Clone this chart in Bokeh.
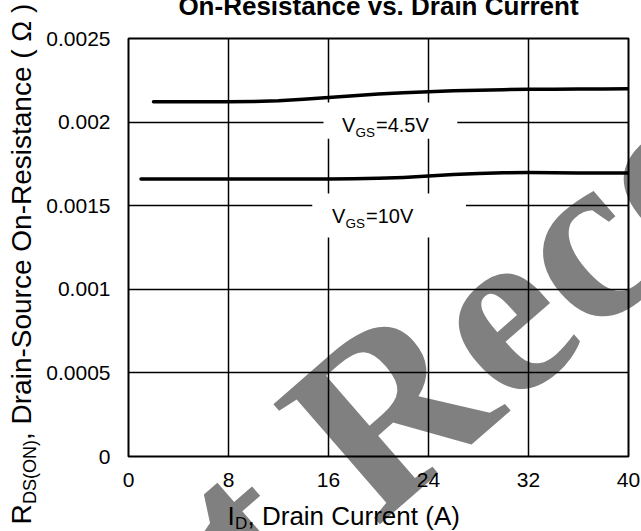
import math
from bokeh.plotting import figure
from bokeh.models import Label, BoxAnnotation, FixedTicker
from bokeh.embed import file_html
from bokeh.resources import INLINE

# ---- data ----
x_ticks = [0, 8, 16, 24, 32, 40]
x_tick_labels = ["0", "8", "16", "24", "32", "40"]
y_ticks = [0, 0.0005, 0.001, 0.0015, 0.002, 0.0025]
y_tick_labels = ["0", "0.0005", "0.001", "0.0015", "0.002", "0.0025"]

id_vgs45 = [2, 4, 6, 8, 10, 12, 14, 16, 18, 20, 22, 24, 26, 28, 30, 32, 34, 36, 38, 40]
r_vgs45 = [0.002122, 0.002122, 0.002122, 0.002122, 0.002123, 0.002127, 0.002136, 0.002147,
           0.002158, 0.002168, 0.002176, 0.002182, 0.002187, 0.002191, 0.002194, 0.002196,
           0.002197, 0.002198, 0.002198, 0.002199]

id_vgs10 = [1, 2, 4, 6, 8, 10, 12, 14, 16, 18, 20, 22, 24, 26, 28, 30, 32, 34, 36, 38, 40]
r_vgs10 = [0.001660, 0.001660, 0.001660, 0.001660, 0.001659, 0.001659, 0.001659, 0.001659,
           0.001660, 0.001661, 0.001664, 0.001669, 0.001677, 0.001686, 0.001693, 0.001697,
           0.001698, 0.001697, 0.001696, 0.001695, 0.001695]

title_text = "On-Resistance vs. Drain Current"
label_45 = ("V", "GS", "=4.5V")
label_10 = ("V", "GS", "=10V")
xlabel_parts = ("I", "D", ", Drain Current (A)")
ylabel_parts = ("R", "DS(ON)", ", Drain-Source On-Resistance ( \u03a9 )")
watermark_text = "Not Recommended"

FONT = "Liberation Sans"
TOP = -12                      # canvas top in page pixels (shifted up)
W, H = 641, 543
PL, PR, PT, PB = 128, 628, 38, 456   # frame edges in page pixels
BASE_K = 0.36                  # empirical baseline correction (fraction of font size)

# ---------------- background figure with the watermark ----------------
w = figure(width=W, height=H, x_range=(0, 1), y_range=(0, 1), title=None,
           x_axis_type=None, y_axis_type=None, output_backend="svg",
           toolbar_location=None, min_border=0)
w.styles = {"position": "absolute", "left": "0px", "top": f"{TOP}px"}
w.background_fill_color = "white"
w.border_fill_color = "white"
w.outline_line_color = None

wm_size = 245
wm_ang = math.radians(41)
up = (-math.sin(wm_ang), -math.cos(wm_ang))       # page-space "up" of rotated text
wx0, wy0 = 45.0, 822.0                              # baseline start, page px
cw = BASE_K * wm_size
wx, wy = wx0 + cw * up[0], wy0 + cw * up[1]
w.add_layout(Label(x=wx, y=(H + TOP) - wy, x_units="screen", y_units="screen",
                   text=watermark_text, angle=wm_ang, text_font="Liberation Serif",
                   text_font_style="bold", text_font_size=f"{wm_size}px",
                   text_color="#808080", text_align="left", text_baseline="alphabetic"))

# ---------------- main chart ----------------
p = figure(width=W, height=H, x_range=(0, 40), y_range=(0, 0.0025), title=None,
           output_backend="svg", toolbar_location=None,
           min_border_left=PL, min_border_right=W - PR,
           min_border_top=PT - TOP, min_border_bottom=H - (PB - TOP))
p.styles = {"margin-top": f"{TOP}px", "position": "relative"}
p.background_fill_alpha = 0
p.border_fill_alpha = 0
p.outline_line_color = "black"
p.outline_line_width = 2
p.outline_line_alpha = 1

p.xaxis.ticker = FixedTicker(ticks=x_ticks)
p.yaxis.ticker = FixedTicker(ticks=y_ticks)
p.xaxis.major_label_overrides = dict(zip(x_ticks, x_tick_labels))
p.yaxis.major_label_overrides = dict(zip(y_ticks, y_tick_labels))
for ax in (p.xaxis[0], p.yaxis[0]):
    ax.axis_line_color = None
    ax.major_tick_line_color = None
    ax.minor_tick_line_color = None
    ax.major_tick_in = 0
    ax.major_tick_out = 0
    ax.minor_tick_in = 0
    ax.minor_tick_out = 0
    ax.major_label_text_font = FONT
    ax.major_label_text_font_size = "21px"
    ax.major_label_text_color = "black"
p.xaxis.major_label_standoff = 16
p.yaxis.major_label_standoff = 18

for g in (p.xgrid[0], p.ygrid[0]):
    g.grid_line_color = "black"
    g.grid_line_width = 1.5
    g.grid_line_alpha = 1

p.line(id_vgs45, r_vgs45, line_width=3.5, color="black", line_cap="round", line_join="round")
p.line(id_vgs10, r_vgs10, line_width=3.5, color="black", line_cap="round", line_join="round")

# white boxes behind the curve labels
p.add_layout(BoxAnnotation(left=15.6, right=26.3, bottom=0.00190, top=0.002117,
                           fill_color="white", fill_alpha=1, line_color=None))
p.add_layout(BoxAnnotation(left=14.7, right=27.0, bottom=0.00131, top=0.001573,
                           fill_color="white", fill_alpha=1, line_color=None))


def frame_lab(text, px, py, size):
    py = py - BASE_K * size
    return Label(x=px - PL, y=PB - py, x_units="screen", y_units="screen", text=text,
                 text_font=FONT, text_font_size=f"{size}px", text_color="black",
                 text_align="left", text_baseline="alphabetic")


p.add_layout(frame_lab(label_45[0], 341.5, 131.5, 20))
p.add_layout(frame_lab(label_45[1], 355.0, 137.0, 13.5))
p.add_layout(frame_lab(label_45[2], 375.5, 131.5, 20))
p.add_layout(frame_lab(label_10[0], 331.5, 222.5, 20))
p.add_layout(frame_lab(label_10[1], 345.0, 228.0, 13.5))
p.add_layout(frame_lab(label_10[2], 365.5, 222.5, 20))

# ---------------- transparent overlay for texts outside the frame ----------------
q = figure(width=W, height=H, x_range=(0, 1), y_range=(0, 1), title=None,
           x_axis_type=None, y_axis_type=None, output_backend="svg",
           toolbar_location=None, min_border=0)
q.styles = {"position": "absolute", "left": "0px", "top": f"{TOP}px"}
q.background_fill_alpha = 0
q.border_fill_alpha = 0
q.outline_line_color = None


def page_lab(text, px, py, size, rotated=False, bold=False, align="left"):
    c = BASE_K * size
    if rotated:
        px = px - c
    else:
        py = py - c
    return Label(x=px, y=(H + TOP) - py, x_units="screen", y_units="screen", text=text,
                 text_font=FONT, text_font_size=f"{size}px", text_color="black",
                 text_align=align, text_baseline="alphabetic",
                 angle=math.pi / 2 if rotated else 0.0,
                 text_font_style="bold" if bold else "normal")


q.add_layout(page_lab(title_text, 378, 15, 26, bold=True, align="center"))

q.add_layout(page_lab(xlabel_parts[0], 227, 525, 26))
q.add_layout(page_lab(xlabel_parts[1], 234.5, 529, 17))
q.add_layout(page_lab(xlabel_parts[2], 247, 525, 26))

q.add_layout(page_lab(ylabel_parts[0], 31, 524, 28, rotated=True))
q.add_layout(page_lab(ylabel_parts[1], 36, 503.5, 18, rotated=True))
q.add_layout(page_lab(ylabel_parts[2], 31, 439.5, 28, rotated=True))

open("out.html", "w").write(file_html([w, p, q], INLINE))
